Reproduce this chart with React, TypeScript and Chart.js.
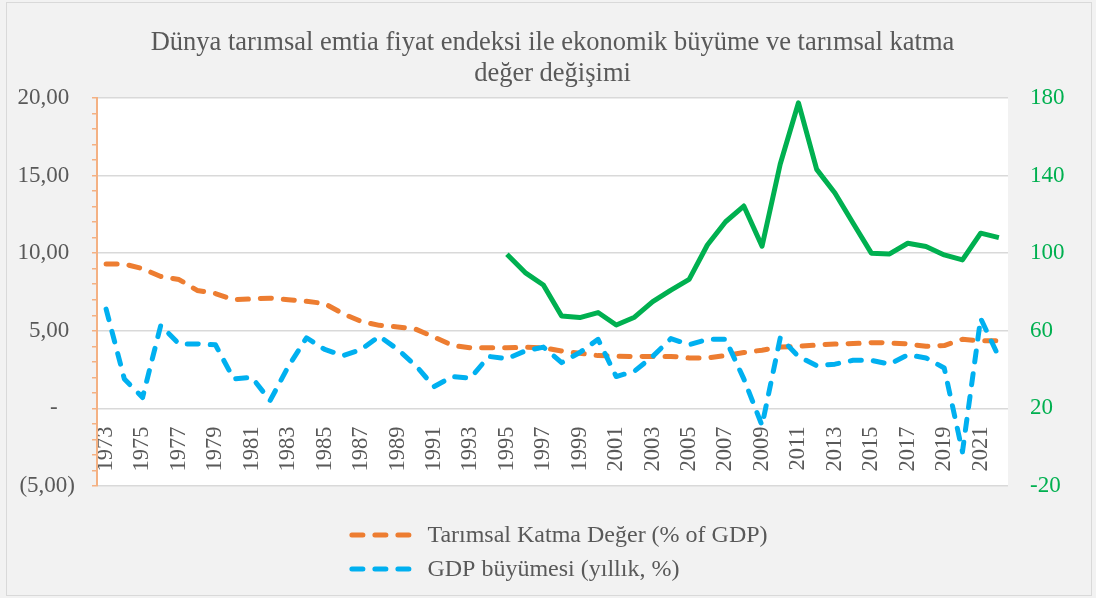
import React, { useEffect, useRef } from 'react';
import { Chart, registerables } from 'chart.js';

Chart.register(...registerables);

const years = [
  '1973', '1974', '1975', '1976', '1977', '1978', '1979', '1980', '1981', '1982',
  '1983', '1984', '1985', '1986', '1987', '1988', '1989', '1990', '1991', '1992',
  '1993', '1994', '1995', '1996', '1997', '1998', '1999', '2000', '2001', '2002',
  '2003', '2004', '2005', '2006', '2007', '2008', '2009', '2010', '2011', '2012',
  '2013', '2014', '2015', '2016', '2017', '2018', '2019', '2020', '2021', '2022',
];

// Tarımsal Katma Değer (% of GDP) — left axis
const agriValueAdded = [
  9.3, 9.3, 9.0, 8.5, 8.3, 7.6, 7.4, 7.0, 7.05, 7.1,
  7.0, 6.9, 6.75, 6.1, 5.6, 5.35, 5.25, 5.1, 4.6, 4.06,
  3.9, 3.9, 3.9, 3.95, 3.9, 3.7, 3.55, 3.4, 3.37, 3.33,
  3.35, 3.35, 3.25, 3.25, 3.4, 3.6, 3.75, 3.95, 4.0, 4.08,
  4.15, 4.18, 4.23, 4.22, 4.15, 4.0, 4.05, 4.45, 4.35, 4.35,
];

// GDP büyümesi (yıllık, %) — left axis
const gdpGrowth = [
  6.4, 1.9, 0.7, 5.35, 4.15, 4.15, 4.1, 1.9, 2.0, 0.5,
  2.7, 4.55, 3.8, 3.4, 3.8, 4.65, 3.8, 2.75, 1.4, 2.05,
  1.95, 3.35, 3.2, 3.7, 3.95, 2.95, 3.6, 4.45, 2.05, 2.4,
  3.35, 4.5, 4.1, 4.45, 4.45, 1.9, -1.1, 4.55, 3.35, 2.75,
  2.85, 3.1, 3.1, 2.85, 3.45, 3.25, 2.6, -2.8, 5.8, 3.3,
];

// Dünya tarımsal emtia fiyat endeksi — right axis
const commodityIndex = [
  null, null, null, null, null, null, null, null, null, null,
  null, null, null, null, null, null, null, null, null, null,
  null, null, 99.4, 90, 83.6, 67.6, 66.8, 69.4, 63, 67,
  75, 81, 86.5, 104.2, 116.2, 124.3, 103.6, 146, 177.5, 143.2,
  131, 115.4, 100, 99.6, 105.1, 103.4, 99.1, 96.5, 110.3, 108,
];

const leftTickValues = [-5, 0, 5, 10, 15, 20];
const leftTickLabels = ['(5,00)', '-   ', '5,00 ', '10,00 ', '15,00 ', '20,00 '];

const titleLines = [
  'Dünya tarımsal emtia fiyat endeksi ile ekonomik büyüme ve tarımsal katma',
  'değer değişimi',
];

const SERIF = '"Liberation Serif", "Times New Roman", serif';
const TEXT = '#595959';
const GRID = '#d9d9d9';
const ORANGE = '#ed7d31';
const BLUE = '#00b0f0';
const GREEN = '#00b050';
const AXIS_ORANGE = '#f4b183';
const DASH = [11, 12];
const LINE_W = 5;

const backgroundPlugin = {
  id: 'frameBackground',
  beforeDraw(chart: any) {
    const { ctx, chartArea, width, height } = chart;
    ctx.save();
    ctx.fillStyle = '#f2f2f2';
    ctx.fillRect(0, 0, width, height);
    ctx.strokeStyle = GRID;
    ctx.lineWidth = 1;
    ctx.strokeRect(6.5, 2.5, width - 11, height - 5);
    ctx.fillStyle = '#ffffff';
    ctx.fillRect(chartArea.left, chartArea.top, chartArea.right - chartArea.left, chartArea.bottom - chartArea.top);
    ctx.restore();
  },
};

const legendPlugin = {
  id: 'stackedLegend',
  afterDraw(chart: any) {
    const { ctx, chartArea } = chart;
    const items = chart.data.datasets.filter((d: any) => d.showInLegend);
    ctx.save();
    ctx.font = `24px ${SERIF}`;
    ctx.textBaseline = 'middle';
    ctx.textAlign = 'left';
    const sampleW = 64;
    const gap = 14;
    const maxText = Math.max(...items.map((d: any) => ctx.measureText(d.label).width));
    const total = sampleW + gap + maxText;
    const cx = (chartArea.left + chartArea.right) / 2 + 6;
    const startX = cx - total / 2;
    items.forEach((ds: any, i: number) => {
      const y = chartArea.bottom + 49 + i * 34;
      ctx.strokeStyle = ds.borderColor;
      ctx.lineWidth = ds.borderWidth;
      ctx.lineCap = 'round';
      ctx.setLineDash(ds.borderDash || []);
      ctx.beginPath();
      ctx.moveTo(startX + 2.5, y);
      ctx.lineTo(startX + sampleW - 2.5, y);
      ctx.stroke();
      ctx.setLineDash([]);
      ctx.fillStyle = TEXT;
      ctx.fillText(ds.label, startX + sampleW + gap, y + 1);
    });
    ctx.restore();
  },
};

export default function App() {
  const canvasRef = useRef<HTMLCanvasElement | null>(null);

  useEffect(() => {
    document.body.style.margin = '0';
    const canvas = canvasRef.current;
    if (!canvas) return;
    const chart = new Chart(canvas, {
      type: 'line',
      data: {
        labels: years,
        datasets: [
          {
            label: 'Tarımsal Katma Değer (% of GDP)',
            data: agriValueAdded,
            borderColor: ORANGE,
            backgroundColor: ORANGE,
            borderWidth: LINE_W,
            borderDash: DASH,
            borderCapStyle: 'round',
            borderJoinStyle: 'round',
            pointRadius: 0,
            tension: 0,
            yAxisID: 'y',
            order: 2,
            showInLegend: true,
          } as any,
          {
            label: 'GDP büyümesi (yıllık, %)',
            data: gdpGrowth,
            borderColor: BLUE,
            backgroundColor: BLUE,
            borderWidth: LINE_W,
            borderDash: DASH,
            borderCapStyle: 'round',
            borderJoinStyle: 'round',
            pointRadius: 0,
            tension: 0,
            yAxisID: 'y',
            order: 1,
            showInLegend: true,
          } as any,
          {
            label: 'Dünya tarımsal emtia fiyat endeksi',
            data: commodityIndex,
            borderColor: GREEN,
            backgroundColor: GREEN,
            borderWidth: LINE_W,
            borderCapStyle: 'butt',
            borderJoinStyle: 'round',
            pointRadius: 0,
            tension: 0,
            yAxisID: 'y1',
            order: 0,
            showInLegend: false,
          } as any,
        ],
      },
      options: {
        animation: false,
        responsive: true,
        maintainAspectRatio: false,
        layout: { padding: { left: 9, right: 0, top: 0, bottom: 112 } },
        plugins: {
          legend: { display: false },
          tooltip: { enabled: false },
          title: {
            display: true,
            text: titleLines,
            color: TEXT,
            font: { family: SERIF, size: 26.5, weight: 'normal', lineHeight: 1.15 },
            padding: { top: 28, bottom: 9 },
          },
        },
        scales: {
          x: {
            type: 'category',
            position: { y: 0 } as any,
            offset: true,
            grid: { display: false, drawTicks: false },
            border: { display: false },
            ticks: {
              autoSkip: false,
              minRotation: 90,
              maxRotation: 90,
              padding: 18,
              color: TEXT,
              font: { family: SERIF, size: 22.5 },
              callback: (_v: any, i: number) => (i % 2 === 0 ? years[i] : ''),
            },
          },
          y: {
            type: 'linear',
            position: 'left',
            min: -5,
            max: 20,
            afterFit: (scale: any) => {
              scale.width = 88;
            },
            grid: {
              color: (ctx: any) => (ctx.tick && leftTickValues.includes(ctx.tick.value) ? GRID : 'rgba(0,0,0,0)'),
              lineWidth: 1.5,
              drawTicks: true,
              tickLength: 5,
              tickColor: AXIS_ORANGE,
              tickWidth: 1.5,
            },
            border: { display: true, color: AXIS_ORANGE, width: 2 },
            ticks: {
              stepSize: 1,
              autoSkip: false,
              padding: 17,
              color: TEXT,
              font: { family: SERIF, size: 23 },
              callback: (v: any) => {
                const idx = leftTickValues.indexOf(Number(v));
                return idx >= 0 ? leftTickLabels[idx] : '';
              },
            },
          },
          y1: {
            type: 'linear',
            position: 'right',
            min: -20,
            max: 180,
            afterFit: (scale: any) => {
              scale.width = 88;
            },
            grid: { display: false, drawTicks: false, drawOnChartArea: false },
            border: { display: false },
            ticks: {
              stepSize: 40,
              padding: 22,
              color: GREEN,
              font: { family: SERIF, size: 23 },
            },
          },
        },
      },
      plugins: [backgroundPlugin, legendPlugin],
    });
    return () => chart.destroy();
  }, []);

  return (
    <div style={{ width: 1096, height: 598, position: 'relative' }}>
      <canvas ref={canvasRef} />
    </div>
  );
}
